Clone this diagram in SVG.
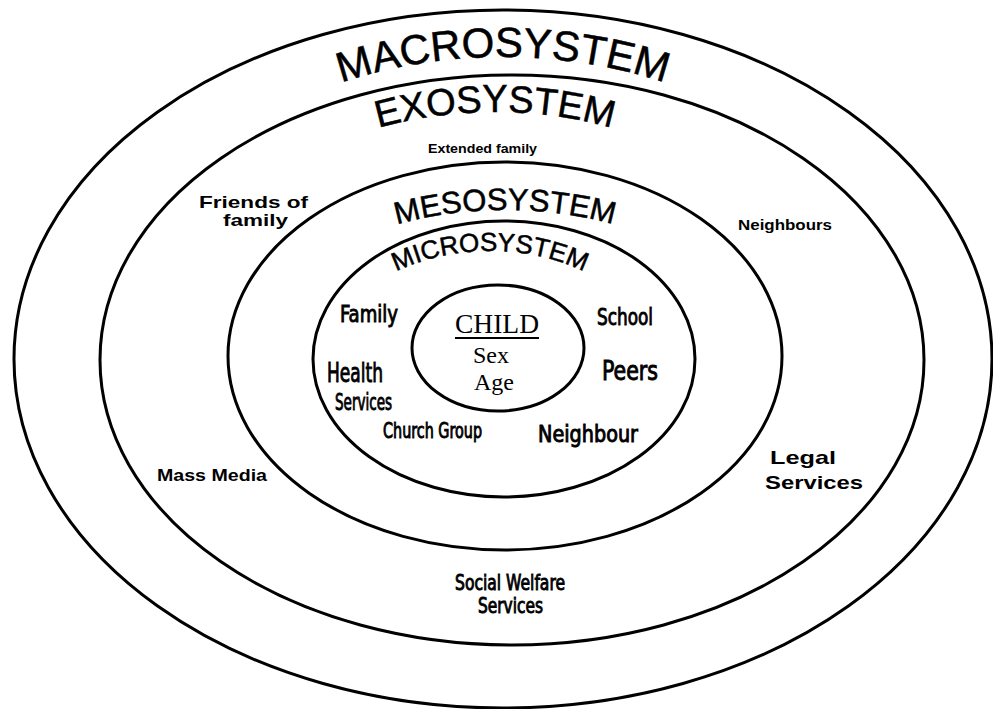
<svg xmlns="http://www.w3.org/2000/svg" width="993" height="709" viewBox="0 0 993 709">
<style>
.ring{fill:none;stroke:#000;stroke-width:3}
.title{font-family:"Liberation Sans",Arial,sans-serif;fill:#000;stroke:#000;stroke-width:0.5}
.wide{font-family:"Liberation Sans",Arial,sans-serif;font-weight:bold;fill:#000}
.cond{font-family:"Liberation Sans Narrow","DejaVu Sans Condensed","Liberation Sans",sans-serif;fill:#000;stroke:#000;stroke-width:0.9}
.serif{font-family:"Liberation Serif","Times New Roman",serif;fill:#000}
</style>
<defs>
<path id="macroArc" d="M 103,359 A 400,302 0 0 1 903,359"/>
<path id="exoArc" d="M 165,360 A 330,248 0 0 1 825,360"/>
<path id="mesoArc" d="M 255,356 A 250,146 0 0 1 755,356"/>
<path id="microArc" d="M 330,359 A 160,108 0 0 1 650,359"/>
</defs>
<rect width="993" height="709" fill="#fff"/>
<g id="macrosystem">
<ellipse class="ring" cx="503" cy="359" rx="489" ry="349"/>
<text class="title" font-size="42" text-anchor="middle"><textPath href="#macroArc" startOffset="50%">MACROSYSTEM</textPath></text>
</g>
<g id="exosystem">
<ellipse class="ring" cx="512" cy="360" rx="412" ry="285"/>
<text class="title" font-size="38" text-anchor="middle"><textPath href="#exoArc" startOffset="50%">EXOSYSTEM</textPath></text>
<text class="wide" x="428" y="153" font-size="12" textLength="109" lengthAdjust="spacingAndGlyphs">Extended family</text>
<text class="wide" x="199" y="208" font-size="17" textLength="109" lengthAdjust="spacingAndGlyphs">Friends of</text>
<text class="wide" x="223" y="226" font-size="17" textLength="65" lengthAdjust="spacingAndGlyphs">family</text>
<text class="wide" x="738" y="230" font-size="15" textLength="94" lengthAdjust="spacingAndGlyphs">Neighbours</text>
<text class="wide" x="157" y="481" font-size="17" textLength="110" lengthAdjust="spacingAndGlyphs">Mass Media</text>
<text class="wide" x="770" y="464" font-size="19" textLength="66" lengthAdjust="spacingAndGlyphs">Legal</text>
<text class="wide" x="765" y="489" font-size="19" textLength="98" lengthAdjust="spacingAndGlyphs">Services</text>
<text class="cond" x="455" y="590" font-size="21" textLength="110" lengthAdjust="spacingAndGlyphs">Social Welfare</text>
<text class="cond" x="478" y="613" font-size="21" textLength="65" lengthAdjust="spacingAndGlyphs">Services</text>
</g>
<g id="mesosystem">
<ellipse class="ring" cx="505" cy="356" rx="277" ry="194"/>
<text class="title" font-size="31" text-anchor="middle"><textPath href="#mesoArc" startOffset="50%">MESOSYSTEM</textPath></text>
</g>
<g id="microsystem">
<ellipse class="ring" cx="504" cy="359" rx="191" ry="138"/>
<text class="title" font-size="26" text-anchor="middle"><textPath href="#microArc" startOffset="50%">MICROSYSTEM</textPath></text>
<text class="cond" x="340" y="322" font-size="23" textLength="58" lengthAdjust="spacingAndGlyphs">Family</text>
<text class="cond" x="597" y="325" font-size="23" textLength="56" lengthAdjust="spacingAndGlyphs">School</text>
<text class="cond" x="327" y="382" font-size="26" textLength="56" lengthAdjust="spacingAndGlyphs">Health</text>
<text class="cond" x="335" y="410" font-size="23" textLength="57" lengthAdjust="spacingAndGlyphs">Services</text>
<text class="cond" x="602" y="380" font-size="27" textLength="56" lengthAdjust="spacingAndGlyphs">Peers</text>
<text class="cond" x="383" y="438" font-size="21" textLength="99" lengthAdjust="spacingAndGlyphs">Church Group</text>
<text class="cond" x="538" y="442" font-size="23" textLength="100" lengthAdjust="spacingAndGlyphs">Neighbour</text>
</g>
<g id="child">
<ellipse class="ring" cx="498" cy="348" rx="86" ry="63"/>
<text class="serif" x="455" y="333" font-size="27" textLength="84" lengthAdjust="spacingAndGlyphs">CHILD</text>
<line x1="455" y1="338" x2="539" y2="338" stroke="#000" stroke-width="2"/>
<text class="serif" x="491" y="363" font-size="24" text-anchor="middle">Sex</text>
<text class="serif" x="494" y="390" font-size="24" text-anchor="middle">Age</text>
</g>
<g id="connectors"/>
</svg>
